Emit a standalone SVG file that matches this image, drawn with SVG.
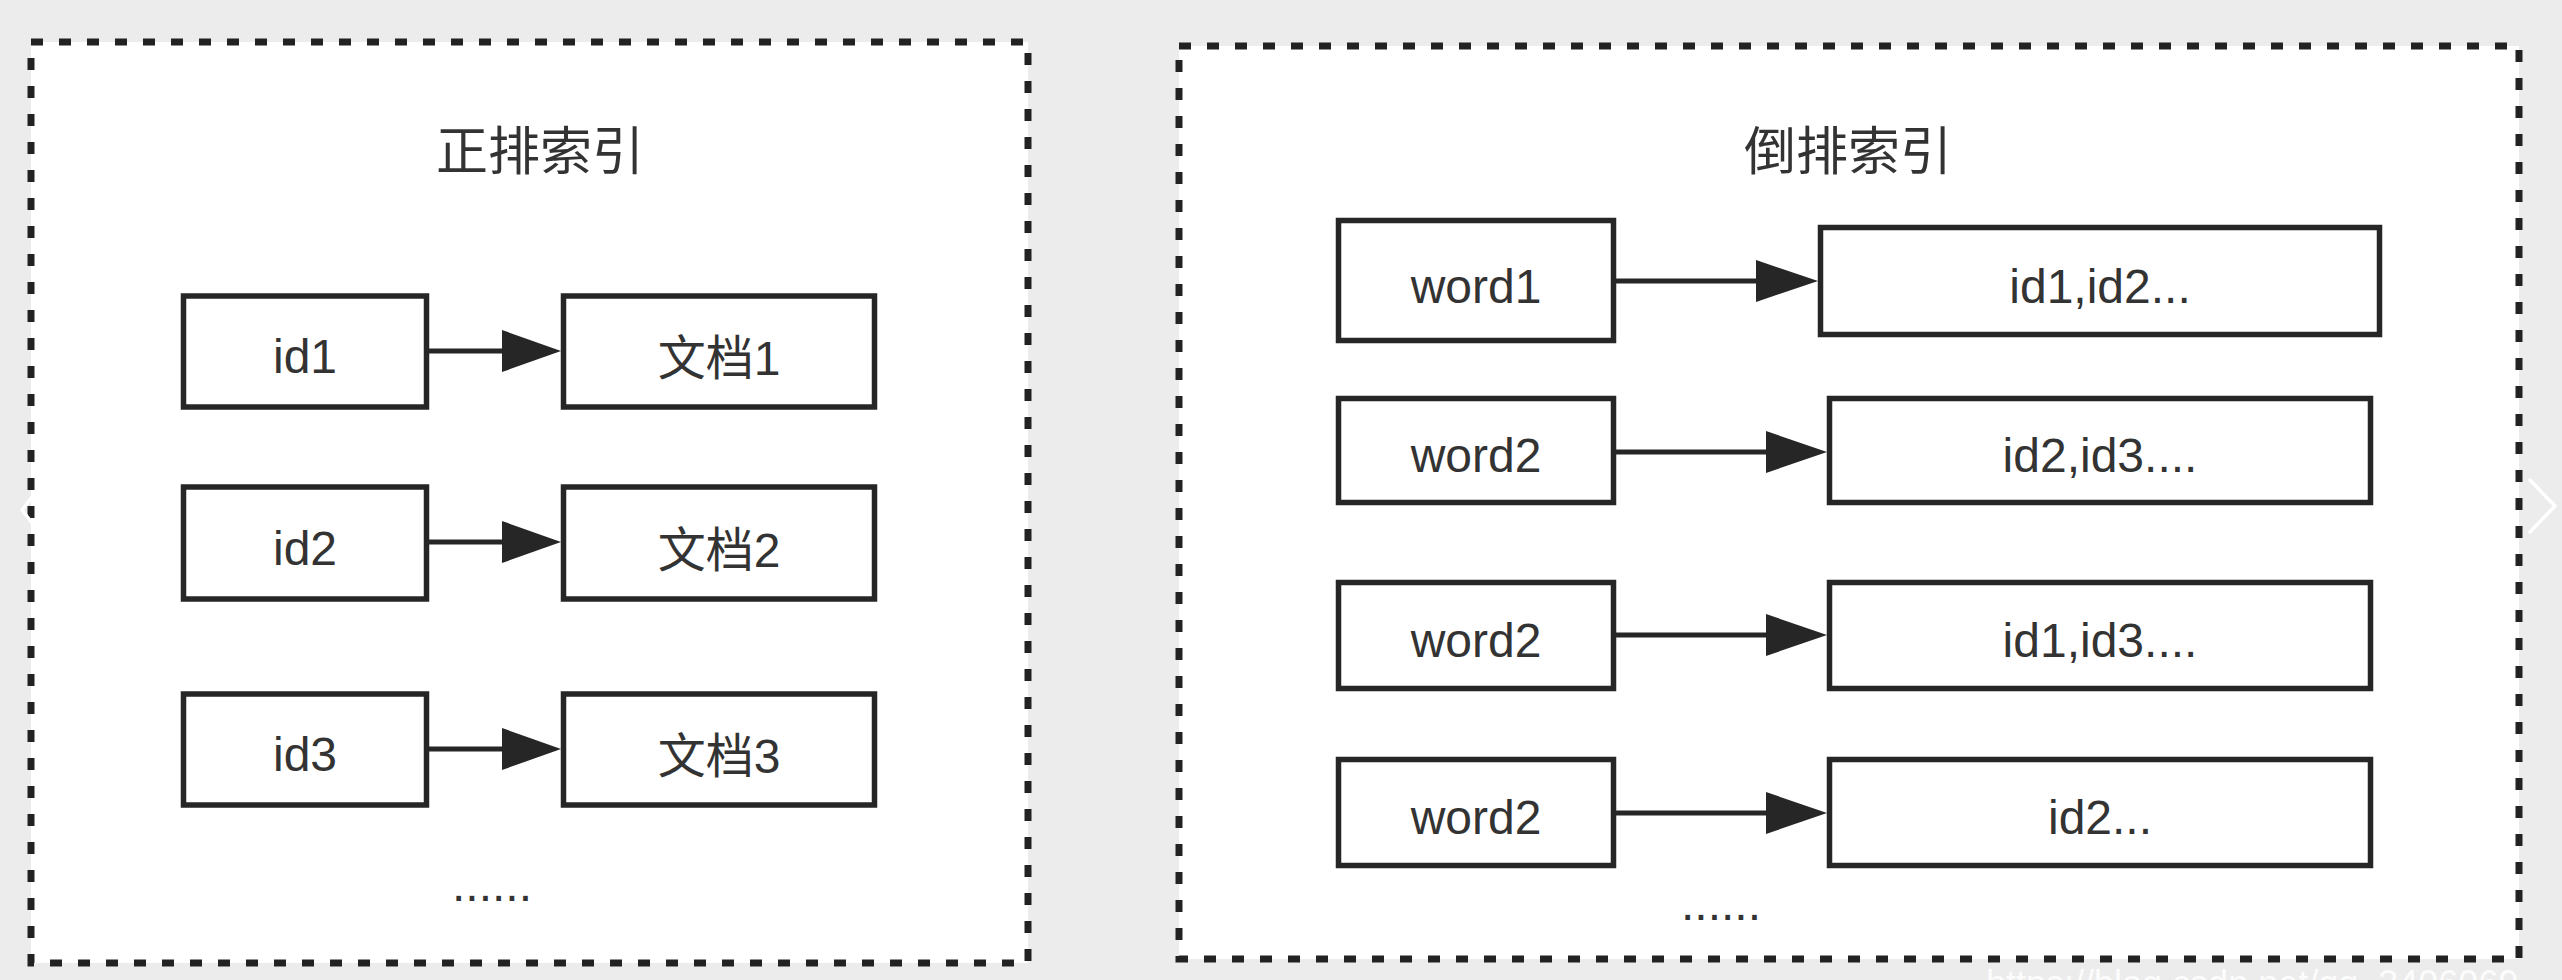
<svg xmlns="http://www.w3.org/2000/svg" width="2562" height="980" viewBox="0 0 2562 980">
<style>
.bg{fill:#ececec}
.panel{fill:#ffffff;stroke:#222;stroke-width:7;stroke-dasharray:12 16}
.box{fill:#ffffff;stroke:#262626;stroke-width:5.5}
.lbl{font-family:"Liberation Sans","Noto Sans CJK SC",sans-serif;font-size:48px;fill:#333;text-anchor:middle}
.title{font-family:"Liberation Sans","Noto Sans CJK SC",sans-serif;font-size:52px;fill:#333;text-anchor:middle}
.edge{stroke:#262626;stroke-width:5;fill:none}
.head{fill:#262626}
.chev{fill:none;stroke:#ffffff;stroke-width:3.5;stroke-linecap:round;stroke-linejoin:round}
</style>
<rect class="bg" x="0" y="0" width="2562" height="980"/>

<g id="panel-forward">
<rect class="panel" x="31" y="42" width="997" height="921"/>
<text class="title" x="540" y="170">正排索引</text>
<text class="lbl" x="492" y="901">......</text>
</g>

<g id="panel-inverted">
<rect class="panel" x="1179" y="46" width="1340" height="913"/>
<text class="title" x="1848" y="170">倒排索引</text>
<text class="lbl" x="1721" y="920">......</text>
</g>

<g id="n-id1"><rect class="box" x="183.5" y="296" width="243" height="111"/><text class="lbl" x="305" y="373">id1</text></g>
<g id="n-doc1"><rect class="box" x="563.5" y="296" width="311" height="111"/><text class="lbl" x="719" y="375">文档1</text></g>
<g id="n-id2"><rect class="box" x="183.5" y="487" width="243" height="112"/><text class="lbl" x="305" y="565">id2</text></g>
<g id="n-doc2"><rect class="box" x="563.5" y="487" width="311" height="112"/><text class="lbl" x="719" y="567">文档2</text></g>
<g id="n-id3"><rect class="box" x="183.5" y="694" width="243" height="111"/><text class="lbl" x="305" y="771">id3</text></g>
<g id="n-doc3"><rect class="box" x="563.5" y="694" width="311" height="111"/><text class="lbl" x="719" y="773">文档3</text></g>

<g id="n-word1"><rect class="box" x="1338.5" y="220.5" width="275" height="120"/><text class="lbl" x="1476" y="303">word1</text></g>
<g id="n-list1"><rect class="box" x="1820.5" y="227.5" width="559" height="107"/><text class="lbl" x="2100" y="303">id1,id2...</text></g>
<g id="n-word2a"><rect class="box" x="1338.5" y="398.5" width="275" height="104"/><text class="lbl" x="1476" y="472">word2</text></g>
<g id="n-list2"><rect class="box" x="1829.5" y="398.5" width="541" height="104"/><text class="lbl" x="2100" y="472">id2,id3....</text></g>
<g id="n-word2b"><rect class="box" x="1338.5" y="582.5" width="275" height="106"/><text class="lbl" x="1476" y="657">word2</text></g>
<g id="n-list3"><rect class="box" x="1829.5" y="582.5" width="541" height="106"/><text class="lbl" x="2100" y="657">id1,id3....</text></g>
<g id="n-word2c"><rect class="box" x="1338.5" y="759.5" width="275" height="106"/><text class="lbl" x="1476" y="834">word2</text></g>
<g id="n-list4"><rect class="box" x="1829.5" y="759.5" width="541" height="106"/><text class="lbl" x="2100" y="834">id2...</text></g>

<g id="connectors">
<line class="edge" x1="429" y1="351" x2="506" y2="351"/><polygon class="head" points="502,330 561,351 502,372"/>
<line class="edge" x1="429" y1="542" x2="506" y2="542"/><polygon class="head" points="502,521 561,542 502,563"/>
<line class="edge" x1="429" y1="749" x2="506" y2="749"/><polygon class="head" points="502,728 561,749 502,770"/>
<line class="edge" x1="1616" y1="281" x2="1760" y2="281"/><polygon class="head" points="1756,260 1818,281 1756,302"/>
<line class="edge" x1="1616" y1="452" x2="1770" y2="452"/><polygon class="head" points="1766,431 1827,452 1766,473"/>
<line class="edge" x1="1616" y1="635" x2="1770" y2="635"/><polygon class="head" points="1766,614 1827,635 1766,656"/>
<line class="edge" x1="1616" y1="813" x2="1770" y2="813"/><polygon class="head" points="1766,792 1827,813 1766,834"/>
</g>

<polyline class="chev" points="36,492 22,510 36,528"/>
<polyline class="chev" points="2530,480 2555,506 2530,532"/>
<text x="1986" y="996" font-family="Liberation Sans, sans-serif" font-size="36" fill="#ffffff" fill-opacity="0.85">https://blog.csdn.net/qq_3406069</text>
</svg>
